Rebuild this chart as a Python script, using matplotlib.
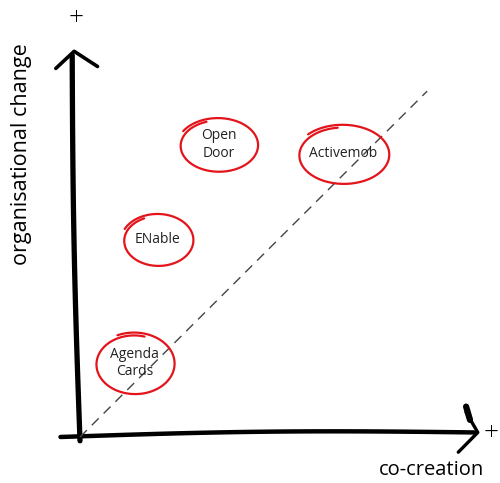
import numpy as np
import matplotlib
matplotlib.use("Agg")
import matplotlib.pyplot as plt

# Data: position of each project on the two dimensions (0-10 scale)
projects = ["Open\nDoor", "Activemob", "ENable", "Agenda\nCards"]
co_creation = [3.55, 6.75, 2.0, 1.4]
org_change = [7.7, 7.45, 5.2, 1.95]

# ellipse size (data units) and start angle for the hand-drawn loop
ring_w = [1.9, 2.2, 1.7, 1.9]
ring_h = [1.32, 1.45, 1.28, 1.5]
ring_start = [1.9, 1.7, 2.0, 1.3]

diag_end = (8.9, 9.1)

plt.rcParams["font.family"] = ["Open Sans", "DejaVu Sans"]

fig = plt.figure(figsize=(5.0, 4.83), dpi=100)
ax = fig.add_axes([0, 0, 1, 1])
# pixel mapping: x_px = 80 + 39*x, y_px = 437 - 38*y
ax.set_xlim(-80 / 39, 420 / 39)
ax.set_ylim((437 - 483) / 38, 437 / 38)
ax.axis("off")

ink = "black"

# vertical axis (slightly leaning) with open arrow head
t = np.linspace(0, 1, 50)
vx = 0.0 - 0.2 * t - 0.05 * np.sin(np.pi * t)
vy = -0.1 + 10.15 * t
ax.plot(vx, vy, color=ink, lw=3.8, solid_capstyle="round")
ax.plot([-0.62, -0.15, 0.45], [9.7, 10.15, 9.75], color=ink, lw=2.6,
        solid_capstyle="round", solid_joinstyle="round")
ax.text(-0.1, 11.0, "+", fontsize=19, ha="center", va="center",
        fontweight="light")

# horizontal axis with open arrow head
hx = -0.5 + 10.6 * t
hy = 0.0 + 0.12 * t + 0.08 * np.sin(np.pi * t)
ax.plot(hx, hy, color=ink, lw=3.2, solid_capstyle="round")
ax.plot([9.9, 10.2, 9.7], [0.65, 0.12, -0.4], color=ink, lw=2.4,
        solid_capstyle="round", solid_joinstyle="round")
ax.plot([9.9, 10.0], [0.8, 0.45], color=ink, lw=4.5, solid_capstyle="round")
ax.text(10.55, 0.1, "+", fontsize=19, ha="center", va="center",
        fontweight="light")

# dashed diagonal
ax.plot([0, diag_end[0]], [0, diag_end[1]], color="#444444", lw=1.0,
        dashes=(7, 5))

# axis titles
ax.text(9.0, -0.88, "co-creation", fontsize=14.5, ha="center", va="center")
ax.text(-1.5, 7.45, "organisational change", fontsize=15.5, rotation=90,
        ha="center", va="center")

# projects: label + hand-drawn red loop
for name, x, y, w, h, a0 in zip(projects, co_creation, org_change,
                                ring_w, ring_h, ring_start):
    ax.text(x, y, name, fontsize=10, ha="center", va="center",
            linespacing=1.25, color="#222222")
    th = np.linspace(a0, a0 + 2 * np.pi + 0.7, 200)
    grow = 1 + 0.1 * (th - a0) / (2 * np.pi)
    ex = x + 0.5 * w * grow * np.cos(th)
    ey = y + 0.5 * h * grow * np.sin(th) - 0.03
    ax.plot(ex, ey, color="#e3141b", lw=1.6, solid_capstyle="round")

fig.savefig("out.png", dpi=100)
